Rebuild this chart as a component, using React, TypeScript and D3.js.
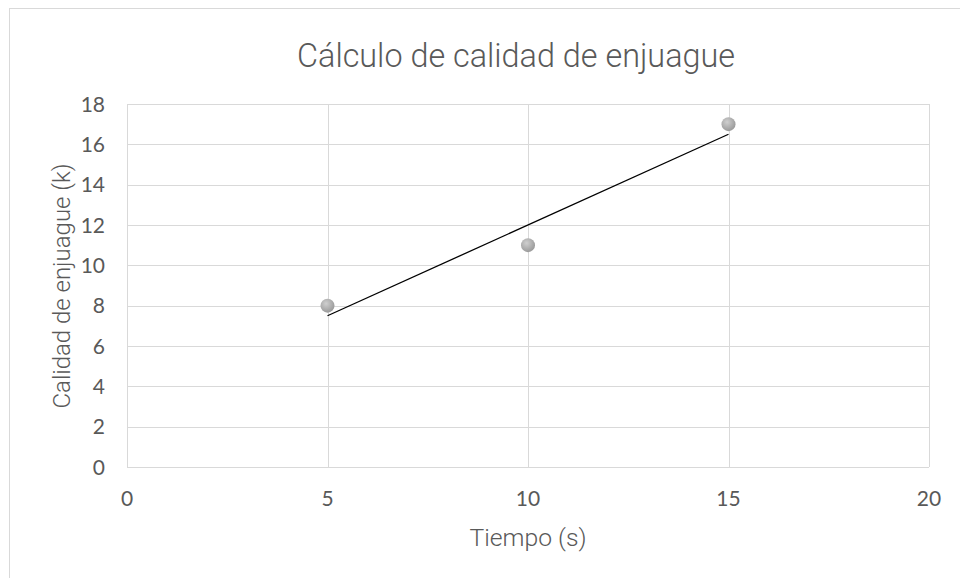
import React from "react";
import * as d3 from "d3";

const xValues = [5, 10, 15];
const yValues = [8, 11, 17];
const xTicks = [0, 5, 10, 15, 20];
const yTicks = [0, 2, 4, 6, 8, 10, 12, 14, 16, 18];
const title = "Cálculo de calidad de enjuague";
const xTitle = "Tiempo (s)";
const yTitle = "Calidad de enjuague (k)";

export default function App() {
  const W = 960, H = 578;
  const left = 127, right = 929, top = 104, bottom = 467;
  const x = d3.scaleLinear().domain([0, 20]).range([left, right]);
  const y = d3.scaleLinear().domain([0, 18]).range([bottom, top]);

  // linear regression trendline
  const mx = d3.mean(xValues)!;
  const my = d3.mean(yValues)!;
  const slope =
    d3.sum(xValues.map((v, i) => (v - mx) * (yValues[i] - my))) /
    d3.sum(xValues.map((v) => (v - mx) ** 2));
  const intercept = my - slope * mx;
  const x0 = d3.min(xValues)!, x1 = d3.max(xValues)!;
  const trend = d3.line<number>().x((d) => x(d)).y((d) => y(slope * d + intercept))([x0, x1]);

  const tickFont = "Lato, 'Open Sans', sans-serif";
  const titleFont = "Roboto, 'Liberation Sans', sans-serif";

  return (
    <svg
      width={W}
      height={H}
      style={{ position: "absolute", left: 0, top: 0, background: "#fff" }}
    >
      <defs>
        <radialGradient id="mk" cx="40%" cy="35%" r="70%">
          <stop offset="0%" stopColor="#cfcfcf" />
          <stop offset="100%" stopColor="#969696" />
        </radialGradient>
      </defs>
      <rect x={9.5} y={8.5} width={W + 20} height={H + 20} fill="#fff" stroke="#d9d9d9" strokeWidth={1} />
      <text
        x={516}
        y={67}
        textAnchor="middle"
        fontFamily={titleFont}
        fontSize={34}
        fontWeight={300}
        textLength={438}
        lengthAdjust="spacingAndGlyphs"
        fill="#595959"
      >
        {title}
      </text>
      {yTicks.map((t) => (
        <line key={"h" + t} x1={left} x2={right} y1={Math.round(y(t)) + 0.5} y2={Math.round(y(t)) + 0.5} stroke="#d9d9d9" strokeWidth={1} />
      ))}
      {xTicks.map((t) => (
        <line key={"v" + t} x1={Math.round(x(t)) + 0.5} x2={Math.round(x(t)) + 0.5} y1={top} y2={bottom} stroke="#d9d9d9" strokeWidth={1} />
      ))}
      {yTicks.map((t) => (
        <text key={"yl" + t} x={105} y={y(t) + 7.5} textAnchor="end" fontFamily={tickFont} fontSize={21} fill="#595959">
          {t}
        </text>
      ))}
      {xTicks.map((t) => (
        <text key={"xl" + t} x={x(t)} y={506} textAnchor="middle" fontFamily={tickFont} fontSize={21} fill="#595959">
          {t}
        </text>
      ))}
      <path d={trend ?? ""} fill="none" stroke="#000" strokeWidth={1.3} />
      {xValues.map((v, i) => (
        <circle key={"p" + i} cx={x(v)} cy={y(yValues[i])} r={7} fill="url(#mk)" />
      ))}
      <text
        x={528}
        y={546}
        textAnchor="middle"
        fontFamily={titleFont}
        fontSize={23}
        fontWeight={300}
        textLength={117}
        lengthAdjust="spacingAndGlyphs"
        fill="#595959"
      >
        {xTitle}
      </text>
      <text
        transform={`translate(70,286) rotate(-90)`}
        textAnchor="middle"
        fontFamily={titleFont}
        fontSize={23}
        fontWeight={300}
        textLength={245}
        lengthAdjust="spacingAndGlyphs"
        fill="#595959"
      >
        {yTitle}
      </text>
    </svg>
  );
}
